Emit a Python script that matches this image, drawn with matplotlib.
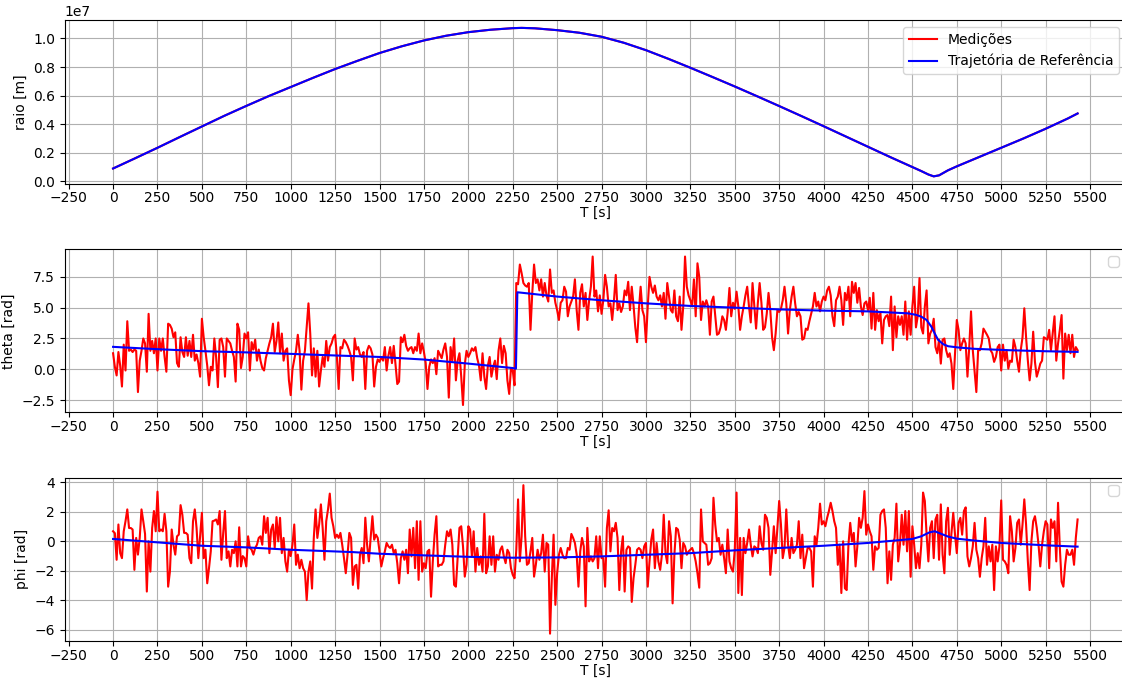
import numpy as np
import matplotlib
matplotlib.use('Agg')
from matplotlib import pyplot as plt
from matplotlib.ticker import MultipleLocator

# reference trajectory (blue)
t_raio = [0, 125, 250, 375, 500, 625, 750, 875, 1000, 1125, 1250, 1375, 1500, 1625, 1750, 1875, 2000, 2125,
          2250, 2300, 2375, 2500, 2625, 2750, 2875, 3000, 3125, 3250, 3375, 3500, 3625, 3750, 3875, 4000, 4125,
          4250, 4375, 4500, 4550, 4590, 4620, 4650, 4700, 4750, 4875, 5000, 5125, 5250, 5375, 5430]
raio_ref = [0.090, 0.162, 0.235, 0.310, 0.384, 0.458, 0.528, 0.596, 0.660, 0.724, 0.786, 0.843, 0.898, 0.945,
            0.986, 1.019, 1.044, 1.061, 1.072, 1.074, 1.071, 1.058, 1.040, 1.012, 0.970, 0.918, 0.858, 0.795,
            0.730, 0.664, 0.596, 0.527, 0.457, 0.386, 0.314, 0.242, 0.170, 0.100, 0.072, 0.048, 0.035, 0.042,
            0.077, 0.105, 0.170, 0.235, 0.300, 0.368, 0.440, 0.475]

t_theta_ref = [0, 250, 500, 750, 1000, 1250, 1500, 1750, 2000, 2250, 2268, 2276, 2500, 2750, 3000, 3250, 3500,
               3750, 4000, 4250, 4475, 4520, 4550, 4580, 4607, 4626, 4644, 4673, 4701, 4757, 4850, 5040, 5230, 5430]
theta_ref = [1.82, 1.63, 1.47, 1.37, 1.25, 1.12, 1.0, 0.79, 0.46, 0.1, 0.05, 6.25, 5.9, 5.6, 5.35, 5.14, 5.0,
             4.86, 4.76, 4.7, 4.54, 4.42, 4.27, 4.0, 3.45, 2.9, 2.4, 2.04, 1.87, 1.77, 1.66, 1.55, 1.47, 1.41]

t_phi_ref = [0, 250, 500, 750, 1000, 1350, 1500, 1750, 2000, 2250, 2500, 2750, 3000, 3250, 3500, 3750, 4000,
             4250, 4500, 4550, 4597, 4626, 4663, 4701, 4750, 4851, 5000, 5250, 5430]
phi_ref = [0.16, -0.07, -0.3, -0.41, -0.57, -0.73, -0.84, -0.95, -1.05, -1.11, -1.09, -1.02, -0.91, -0.8, -0.61,
           -0.45, -0.3, -0.11, 0.16, 0.34, 0.61, 0.68, 0.5, 0.32, 0.18, 0.05, -0.11, -0.27, -0.36]

# measurements (red), one sample every 10 s
theta_meas = [
    1.3, 0.2, -0.5, 1.4, 0.3, -1.4, 2.0, -0.1, 3.9, 1.5,
    1.6, 1.4, 1.6, 1.5, -1.85, 0.7, 1.5, 2.5, 2.1, -0.2,
    4.5, 1.5, 2.3, 1.3, 2.5, -0.1, 2.5, 1.5, 2.5, 1.0,
    -0.2, 3.7, 3.6, 3.3, 2.6, 3.0, 0.5, 0.2, 2.6, 1.4,
    1.0, 2.6, 1.1, 2.3, 1.0, 2.8, 0.7, 1.2, 0.5, -0.6,
    4.1, 2.6, 1.5, 0.3, -1.3, 0.2, -0.1, 2.5, 1.0, -1.45,
    2.4, 2.5, 1.8, -0.6, 2.5, 2.3, 2.1, 1.5, 1.0, -1.0,
    3.7, 3.2, 0.1, 1.0, 2.9, 2.5, 3.0, -0.1, 2.2, 1.6,
    2.4, 0.7, 1.6, 0.7, 0.1, -0.1, 0.9, 1.5, 2.1, 2.6,
    3.7, 1.4, 2.3, 3.8, 1.3, 2.9, 0.7, 1.5, 1.7, -0.9,
    -2.1, 0.0, 0.8, 1.5, 2.8, 1.5, -1.65, 0.7, 1.5, 3.4,
    5.35, 2.9, -0.5, 1.7, -0.6, 1.5, -1.4, -0.1, 1.0, 0.2,
    2.3, 0.7, 1.8, 2.1, 2.6, 2.8, 1.0, -1.6, 1.8, 1.7,
    2.4, 2.2, 1.9, 1.5, 1.0, -0.9, 2.5, 1.6, 1.8, 1.2,
    1.0, 1.4, -1.6, 1.5, 1.9, 1.7, 1.2, -1.4, 0.2, 0.8,
    0.6, 1.0, 0.7, 1.8, -0.1, 1.1, 1.8, 0.5, 1.9, 0.4,
    -1.2, -1.0, 2.6, 2.2, 2.8, 1.9, 1.5, 1.7, 1.8, 1.3,
    1.8, 1.5, 2.9, 1.3, 2.1, 1.4, 0.5, -1.6, 0.2, 0.8,
    0.5, 0.9, -0.4, 1.5, 1.2, 0.9, 1.6, 2.1, 1.0, -2.3,
    1.8, 0.7, 2.5, -0.9, 0.7, 1.3, -0.6, -2.9, 0.4, 1.5,
    1.0, 1.3, 1.7, 1.5, 1.8, 0.9, 0.3, -0.9, 1.3, -0.6,
    -1.6, 0.3, 1.0, -0.6, 0.2, 0.7, -0.8, 1.5, 2.5, 0.5,
    1.9, 1.3, -0.9, -2.0, 0.05, -0.1, -1.3, 7.0, 6.9, 8.5,
    7.8, 7.0, 6.8, 6.7, 7.0, 3.2, 6.2, 8.5, 7.0, 7.3,
    6.4, 7.3, 5.9, 7.0, 6.0, 5.5, 8.1, 6.2, 6.4, 5.4,
    4.8, 4.0, 5.4, 5.6, 6.7, 6.3, 4.3, 5.1, 5.5, 5.9,
    7.3, 4.8, 3.2, 6.2, 6.9, 5.1, 6.2, 4.0, 5.6, 6.7,
    9.15, 5.9, 6.4, 4.7, 6.0, 4.5, 5.6, 7.66, 6.7, 5.1,
    5.35, 4.0, 5.6, 7.66, 4.8, 5.35, 4.65, 5.1, 6.4, 6.0,
    7.1, 4.8, 6.7, 5.2, 3.4, 2.2, 4.8, 6.7, 4.8, 4.3,
    2.2, 5.1, 7.5, 6.7, 6.2, 6.8, 5.9, 5.6, 6.0, 5.1,
    6.2, 4.1, 7.0, 5.9, 4.8, 4.6, 6.4, 4.3, 3.9, 5.9,
    3.2, 5.1, 9.15, 6.7, 6.0, 5.6, 5.1, 7.3, 4.3, 8.6,
    7.5, 4.0, 5.5, 5.1, 5.6, 5.1, 2.8, 5.5, 5.9, 4.3,
    2.8, 2.9, 3.4, 4.3, 4.0, 3.2, 4.6, 6.6, 4.3, 5.4,
    4.9, 6.3, 5.1, 3.2, 4.3, 5.1, 6.0, 6.7, 5.1, 3.8,
    7.0, 5.1, 3.3, 5.4, 7.0, 5.4, 3.2, 3.4, 4.5, 6.2,
    4.8, 2.6, 1.55, 2.9, 4.8, 4.65, 4.9, 5.6, 6.7, 5.35,
    2.9, 4.8, 5.9, 6.7, 5.35, 4.3, 4.65, 4.3, 2.4, 2.5,
    3.3, 3.2, 3.9, 4.5, 5.1, 6.2, 5.1, 5.5, 4.7, 5.5,
    5.9, 5.6, 6.4, 6.7, 6.0, 4.3, 3.5, 5.6, 5.9, 6.7,
    5.6, 3.6, 6.2, 5.6, 6.7, 4.3, 7.1, 6.2, 7.0, 5.4,
    6.6, 5.1, 4.4, 5.35, 5.5, 4.8, 5.8, 3.3, 6.2, 3.2,
    4.8, 3.9, 4.6, 2.1, 4.0, 4.3, 4.4, 3.5, 5.9, 1.55,
    5.1, 2.6, 4.3, 3.6, 4.3, 2.8, 5.5, 2.4, 4.7, 2.8,
    5.1, 6.7, 3.4, 4.3, 7.4, 3.4, 2.9, 5.1, 6.4, 2.1,
    2.9, 3.2, 4.1, 1.8, 1.3, 2.4, 0.46, 2.4, 2.5, 1.55,
    1.0, 1.3, 0.46, -1.6, 1.3, 4.0, 3.2, 1.55, 2.1, 2.5,
    2.1, -0.6, 1.8, 4.7, 1.55, -0.1, -1.85, 1.55, 1.55, 2.1,
    3.3, 3.05, 2.8, 2.5, 1.55, 1.3, 0.6, 1.0, 1.8, 2.0,
    -0.1, 2.0, 0.7, 1.55, 0.05, 0.7, 0.6, 2.4, 1.8, 0.7,
    -0.2, 1.55, 2.6, 4.95, 2.6, 0.7, -0.9, 0.46, 3.05, 0.6,
    -0.6, -0.1, 0.46, 0.7, 2.6, 2.5, 2.4, 3.2, 1.55, 2.9,
    4.3, 0.7, 2.1, 3.2, 4.4, -0.76, 2.9, 1.55, 2.8, 1.3,
    2.8, 1.0, 1.8, 1.55]

phi_meas = [
    0.68, 0.55, -1.25, 1.14, -0.8, -1.14, 0.68, 1.36, 2.16, 0.9,
    0.9, 0.8, -1.93, 0.23, -0.9, 0.23, 2.16, 1.36, 0.5, -3.4,
    0.0, -2.05, 0.9, 2.05, 0.68, 3.36, 0.68, 0.8, 0.68, 1.86,
    0.68, -3.07, -2.05, 0.8, -0.23, -0.9, 0.34, 0.45, 2.45, 1.8,
    0.57, 0.57, 0.45, -1.14, -1.48, 1.36, 2.16, 0.9, -1.14, 0.34,
    1.93, -1.14, -0.57, -2.84, -1.82, -0.68, 1.36, 1.4, 1.48, 1.14,
    2.05, -1.25, 0.57, 2.05, -1.14, -0.68, -1.7, -0.57, -0.8, 0.0,
    -1.7, 0.95, -1.7, -1.0, -1.14, -1.7, 0.34, -0.45, -0.57, -0.9,
    -0.45, -0.23, 0.23, 0.34, -0.23, 1.7, 0.57, 1.59, -0.8, 0.8,
    1.14, -0.45, 1.64, 0.0, 1.59, -0.8, 0.23, -1.36, -2.05, -0.57,
    -1.0, -0.23, 1.14, -1.59, -0.9, -1.82, -1.25, -1.82, -2.05, -3.98,
    -2.05, -1.36, -3.2, 0.23, 2.16, 0.23, 1.14, 2.5, 0.9, -1.25,
    1.36, 2.16, 3.23, 1.59, 1.02, 0.23, 0.45, 0.23, 0.57, -0.23,
    -1.14, -2.16, -0.9, 0.57, 0.23, -2.95, -1.7, -1.59, -3.2, -0.9,
    -0.45, -1.48, 1.6, -0.23, -1.36, 0.23, 1.7, 0.11, 0.45, 0.23,
    -0.68, -1.7, -1.14, -0.68, -0.11, -0.34, -0.45, -0.23, -0.8, -0.57,
    -1.48, -2.84, -1.14, -0.68, -1.25, -0.57, -2.16, 0.8, -1.02, 0.91,
    -1.82, 1.36, -2.61, 1.36, -2.05, -1.48, -1.82, -0.68, -0.57, -3.75,
    -1.36, 0.45, 1.7, -1.7, -1.59, -1.59, -1.36, -0.23, 0.68, 0.34,
    0.8, -0.23, -2.95, -3.07, -1.14, 0.91, 1.02, -0.34, -2.39, -1.59,
    1.02, 0.8, -1.02, 0.68, -2.05, -0.45, -1.59, -1.02, -2.05, 1.86,
    -2.16, -1.7, 0.34, -1.59, 0.34, -2.05, -0.91, -1.25, -0.57, -0.34,
    -1.02, -1.48, -0.57, -0.8, -1.82, -2.27, -2.5, -0.57, 2.84, -1.36,
    0.34, 3.8, 0.34, -1.59, -1.48, -0.68, 0.23, -2.39, -1.59, -0.57,
    -1.25, -0.8, 0.45, -2.05, -0.11, -0.23, -6.25, -2.5, 0.45, -4.3,
    -2.16, -0.91, -0.45, -0.91, -1.14, -1.14, -0.45, -0.57, 0.5, 0.23,
    -0.11, -0.9, -3.07, -0.68, 0.23, -0.34, -4.4, 0.91, -1.36, -1.02,
    -1.36, -1.14, 0.34, -1.82, 0.34, -1.14, -1.14, -3.07, 0.9, 2.1,
    -0.68, 0.9, 0.68, 1.25, 0.23, -3.3, -0.68, 0.34, -3.4, -0.57,
    -0.34, -0.45, -4.1, -2.5, -1.59, -0.57, -0.45, -0.57, -1.14, -0.34,
    -0.11, -3.07, -1.36, 0.11, 0.8, -1.82, -0.11, -1.36, -1.93, -0.91,
    1.8, -0.8, -1.48, 1.36, 0.34, -4.2, -0.91, 0.91, 0.8, 0.11,
    -1.82, -0.11, -0.34, -0.91, -0.68, -0.57, -0.45, -0.8, -1.36, -2.16,
    -3.14, 2.16, 0.0, -0.11, -0.23, -1.59, -1.48, -1.14, 2.95, 1.14,
    0.0, 0.23, -0.91, -0.23, -1.14, -2.16, 0.8, -1.36, -1.82, -2.05,
    -0.57, 3.3, -3.5, 0.23, -3.64, 0.23, -0.8, -0.11, 0.8, -0.23,
    -1.02, -0.34, -0.45, -0.8, 1.02, -0.11, -0.57, 1.8, 1.59, 0.91,
    -2.27, -0.68, 1.02, -0.8, 0.91, 2.73, 1.14, -1.14, -0.45, 2.16,
    -0.23, -1.14, 0.23, -0.8, -0.57, -0.23, 1.36, -1.14, 0.45, -1.82,
    -1.14, -0.45, -0.45, -0.68, -3.07, 0.34, -0.23, 0.91, 2.55, 1.14,
    1.36, 1.02, 1.59, 2.05, 2.61, 2.05, 1.36, 0.91, -1.59, -0.23,
    -3.5, 0.0, -3.18, -3.3, -0.23, 1.25, 0.0, 0.57, -1.7, -0.34,
    1.59, 0.91, 1.59, 3.4, 0.45, 1.14, 0.68, 0.34, -1.93, -0.34,
    -0.57, -0.45, 1.8, 2.05, 2.16, 0.91, -2.84, -0.68, -2.61, -0.23,
    0.23, 2.55, -1.36, -0.23, 1.8, -0.23, 2.05, -0.68, 2.05, -2.4,
    1.02, -0.23, -1.82, -0.8, -1.82, -0.23, 3.3, 2.73, 0.45, -1.36,
    0.91, 1.36, -1.14, 1.48, 1.8, -1.25, 2.5, -0.91, -2.16, 1.36,
    2.27, -0.91, 0.57, 1.93, 0.45, -0.8, 1.25, 1.59, 0.45, 2.05,
    2.3, -1.02, -1.7, -1.14, -0.34, 1.25, -0.57, -1.14, -2.4, -1.14,
    -0.34, 1.59, -1.59, -0.34, -1.36, -0.23, -3.3, -0.34, -1.36, -0.34,
    2.77, -1.25, -1.36, -1.59, -2.16, 1.7, 0.68, -1.36, -0.45, 1.25,
    1.48, -0.23, 1.14, 2.84, 1.14, -1.36, -3.3, 0.0, 1.36, 1.7,
    0.91, -0.23, -1.7, -0.23, 0.68, 1.36, 1.14, -1.82, 1.48, 0.91,
    1.36, -1.36, 2.61, -0.45, -2.73, -3.07, -1.59, -0.57, -0.91, -0.91,
    -0.57, -1.59, 0.23, 1.48]

dt = 10
t_theta = np.arange(len(theta_meas)) * dt
t_phi = np.arange(len(phi_meas)) * dt
xticks = np.arange(-250, 5501, 250)

fig, axs = plt.subplots(3, 1, figsize=(11.22, 6.82), dpi=100)
# the original picture is cropped on the right, so the axes run a little past the edge
fig.subplots_adjust(left=0.0578, right=1.0034, top=0.97, bottom=0.06, hspace=0.40)

ax = axs[0]
ax.plot(t_raio, np.array(raio_ref) * 1e7, color='red', label='Medições')
ax.plot(t_raio, np.array(raio_ref) * 1e7, color='blue', label='Trajetória de Referência')
ax.set_ylabel('raio [m]')
ax.yaxis.set_major_locator(MultipleLocator(0.2e7))
ax.legend(loc='upper right')

ax = axs[1]
ax.plot(t_theta, theta_meas, color='red')
ax.plot(t_theta_ref, theta_ref, color='blue')
ax.set_ylabel('theta [rad]')
ax.yaxis.set_major_locator(MultipleLocator(2.5))
ax.legend(loc='upper right')

ax = axs[2]
ax.plot(t_phi, phi_meas, color='red')
ax.plot(t_phi_ref, phi_ref, color='blue')
ax.set_ylabel('phi [rad]')
ax.yaxis.set_major_locator(MultipleLocator(2))
ax.legend(loc='upper right')

for ax in axs:
    ax.set_xticks(xticks)
    ax.tick_params(axis='x', pad=2)
    ax.set_xlabel('T [s]', labelpad=0.5)
    ax.grid(True)

plt.savefig('out.png')
